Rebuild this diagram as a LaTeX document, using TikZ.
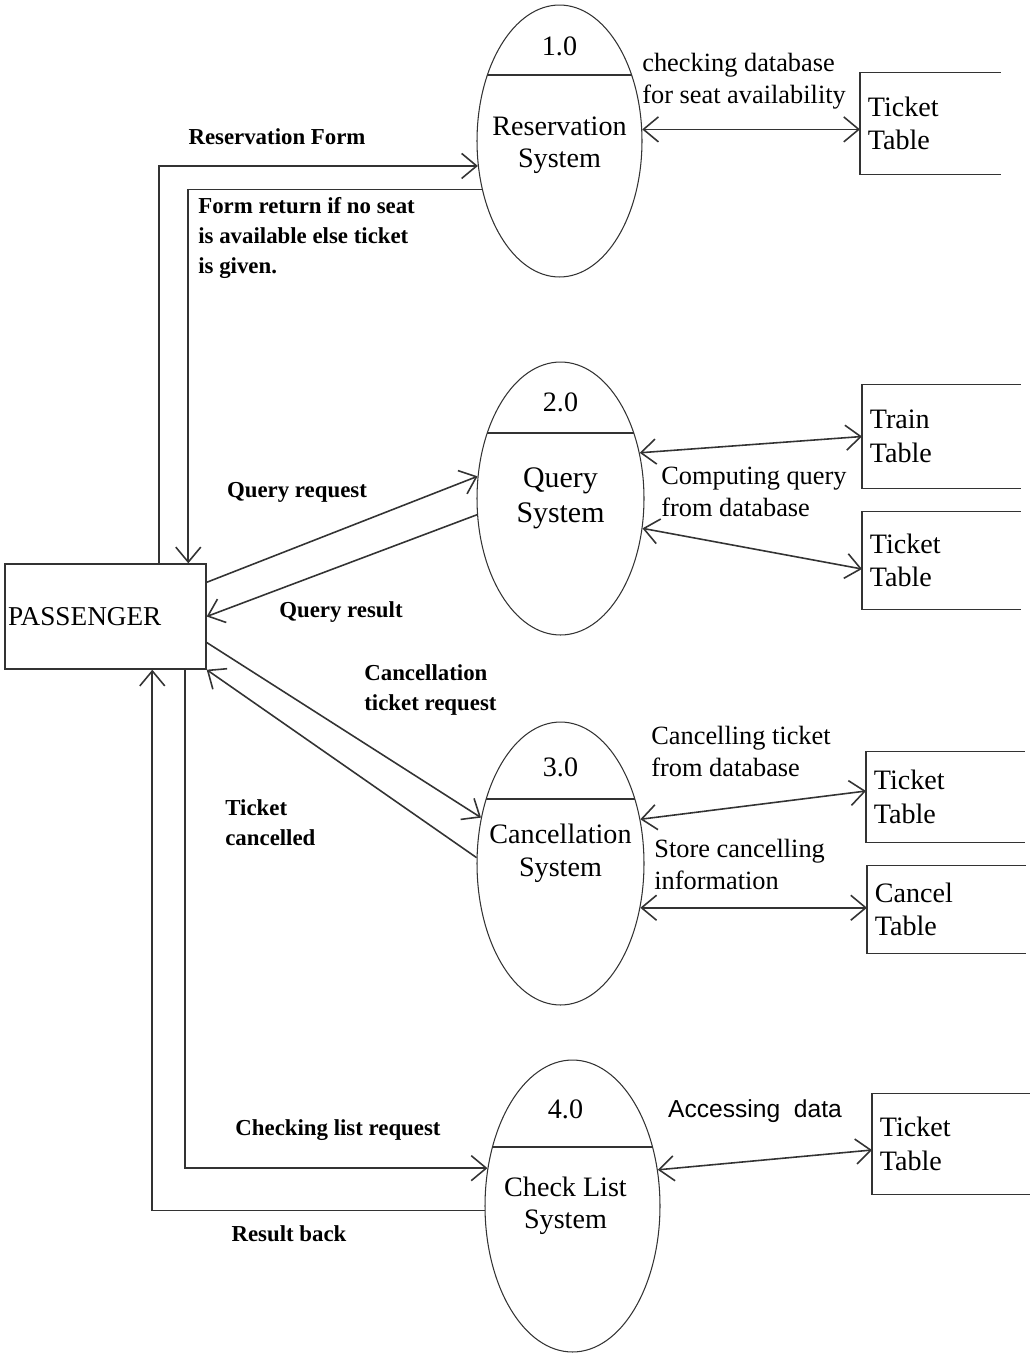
\documentclass[tikz,border=0pt]{standalone}
\usepackage{fontspec}
\setmainfont{Liberation Serif}
\newfontfamily\accfont{Liberation Sans}
\usepackage{tikz}
\usetikzlibrary{calc,positioning,shapes.geometric,arrows.meta}
\definecolor{lineg}{HTML}{333333}

\begin{document}
\begin{tikzpicture}[x=0.02cm,y=-0.02cm,
  proc/.style={draw=lineg,ellipse,line width=0.6pt,inner sep=0pt,
    path picture={\draw[lineg,line width=0.9pt]
      ($(path picture bounding box.north west)!#1!(path picture bounding box.south west)$) -- ++(5cm,0);}},
  ptext/.style={align=center,inner sep=0pt,font=\fontsize{16}{18.5}\selectfont},
  pnum/.style={inner sep=0pt,font=\fontsize{16}{18}\selectfont},
  store/.style={anchor=west,align=left,inner xsep=0.15cm,inner ysep=0pt,text width=2.86cm,font=\fontsize{16}{19}\selectfont},
  lab/.style={align=left,inner sep=0pt,font=\fontsize{13}{17}\selectfont\bfseries},
  rlab/.style={align=left,inner sep=0pt,font=\fontsize{15}{18.2}\selectfont},
  flow/.style={draw=lineg,line width=0.9pt,-{Straight Barb[length=3mm,width=5mm]}},
  dflow/.style={draw=lineg,line width=0.9pt,{Straight Barb[length=3mm,width=5mm]}-{Straight Barb[length=3mm,width=5mm]}}]
\useasboundingbox (0,0) rectangle (1030,1353);

\node[draw=lineg,line width=0.8pt,minimum width=4.02cm,minimum height=2.1cm,text width=3.9cm,align=left,inner xsep=0.06cm,font=\fontsize{15.5}{18}\selectfont] (pass) at (105.5,616.5) {PASSENGER};

% processes
\node[proc=0.257,minimum width=3.3cm,minimum height=5.44cm] (p1) at (559.5,141) {};
\node[proc=0.26,minimum width=3.34cm,minimum height=5.46cm] (p2) at (560.5,498.5) {};
\node[proc=0.272,minimum width=3.34cm,minimum height=5.66cm] (p3) at (560.5,863.5) {};
\node[proc=0.298,minimum width=3.5cm,minimum height=5.84cm] (p4) at (572.5,1206) {};
\node[pnum] (n1) at ([yshift=-0.84cm]p1.north) {1.0};
\node[pnum] (n2) at ([yshift=-0.82cm]p2.north) {2.0};
\node[pnum] (n3) at ([yshift=-0.92cm]p3.north) {3.0};
\node[pnum] (n4) at ([xshift=-0.14cm,yshift=-1cm]p4.north) {4.0};
\node[ptext] (t1) at ([yshift=-0.08cm]p1.center) {Reservation\\System};
\node[ptext,font=\fontsize{17}{20}\selectfont] (t2) at (p2.center) {Query\\System};
\node[ptext] (t3) at ([yshift=0.2cm]p3.center) {Cancellation\\System};
\node[ptext] (t4) at ([xshift=-0.14cm]p4.center) {Check List\\System};

% data stores
\node[store,text width=2.5cm,minimum height=2.02cm] (s1) at (860,123.5) {Ticket\\Table};
\node[store,minimum height=2.06cm] (s2) at (862,436.5) {Train\\Table};
\node[store,minimum height=1.94cm] (s3) at (862,560.5) {Ticket\\Table};
\node[store,minimum height=1.8cm] (s4) at (866,797) {Ticket\\Table};
\node[store,minimum height=1.74cm] (s5) at (867,909.5) {Cancel\\Table};
\node[store,minimum height=2cm] (s6) at (872,1144) {Ticket\\Table};
\foreach \s in {s1,s2,s3,s4,s5,s6}
  \draw[lineg,line width=0.9pt] (\s.north east) -- (\s.north west) -- (\s.south west) -- (\s.south east);

% passenger flows
\draw[flow] ([xshift=3.1cm]pass.north west) |- (p1.197);
\draw[flow] (p1.212) -| ([xshift=3.68cm]pass.north west);
\draw[flow] ([yshift=-0.38cm]pass.north east) -- (p2.165);
\draw[flow] (p2.191) -- (pass.east);
\draw[flow] ([yshift=-0.52cm]pass.east) -- (p3.150);
\draw[flow] (p3.176) -- (pass.south east);
\draw[flow] ([xshift=3.62cm]pass.south west) |- (p4.156);
\draw[flow] (p4.183) -| ([xshift=2.96cm]pass.south west);

% database flows
\draw[dflow] (p1.8) -- (p1.8 -| s1.west);
\draw[dflow] (p2.30) -- (s2.west);
\draw[dflow] (p2.340) -- ([yshift=-0.17cm]s3.west);
\draw[dflow] (p3.29) -- ([yshift=0.12cm]s4.west);
\draw[dflow] (p3.331) -- (p3.331 -| s5.west);
\draw[dflow] (p4.23) -- ([yshift=-0.12cm]s6.west);

\node[lab] (lresv) at (277,137) {Reservation Form};
\node[lab,anchor=west] (lret) at (198,238) {Form return if no seat\\is available else ticket\\is given.};
\node[lab] (lqreq) at (297,492) {Query request};
\node[lab] (lqres) at (341,612) {Query result};
\node[lab,anchor=west] (lcreq) at (364,690) {Cancellation\\ticket request};
\node[lab,anchor=west] (ltcan) at (225,823) {Ticket\\cancelled};
\node[lab] (lclist) at (338,1130) {Checking list request};
\node[lab] (lrback) at (289,1234) {Result back};
\node[rlab,anchor=west] (lchk) at (642,81) {checking database\\for seat availability};
\node[rlab,anchor=west] (lcomp) at (661,492) {Computing query\\from database};
\node[rlab,anchor=west] (lcdb) at (651,751) {Cancelling ticket\\from database};
\node[rlab,anchor=west] (lstor) at (654,864) {Store cancelling\\information};
\node[inner sep=0pt,font=\accfont\fontsize{14}{17}\selectfont] (lacc) at (755,1111) {Accessing\ \ data};
\end{tikzpicture}
\end{document}
